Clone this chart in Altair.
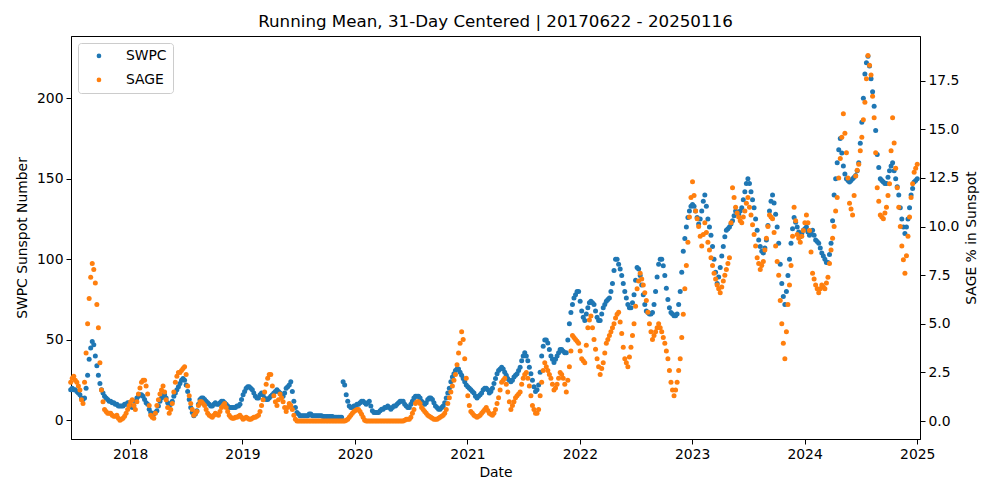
import altair as alt
import pandas as pd

# ---- data (31-day running means, read every 5 days from the start date) ----
start_date = "2017-06-22"
step_days = 5

swpc = [
    # 2017-06 .. 2018-06
    19, 20, 19, 19, 18, 17, 16, 14, 13, 14,
    20, 28, 38, 45, 49, 47, 40, 34, 28, 23,
    19, 17, 15, 14, 13, 12, 12, 11, 11, 10,
    10, 9, 9, 9, 9, 10, 10, 11, 11, 9,
    8, 9, 12, 14, 15, 16, 16, 15, 13, 11,
    10, 7, 5, 4, 4, 5, 6, 9, 12, 14,
    16, 16, 14, 11, 9, 10, 12, 15, 17, 19,
    21, 23,
    # 2018-06 .. 2019-06
    25, 26, 25, 22, 18, 13, 8, 5, 3, 4,
    6, 10, 13, 14, 14, 13, 12, 11, 10, 9,
    9, 10, 11, 10, 10, 11, 12, 12, 11, 10,
    9, 8, 8, 8, 8, 8, 9, 9, 10, 13,
    16, 18, 20, 21, 21, 20, 19, 17, 15, 14,
    14, 16, 17, 16, 14, 13, 13, 14, 15, 16,
    17, 18, 19, 18, 17, 16, 15, 17, 20, 21,
    22, 24,
    # 2019-06 .. 2020-06
    18, 12, 8, 5, 4, 3, 3, 3, 3, 3,
    3, 4, 4, 3, 3, 3, 3, 3, 3, 3,
    2.5, 2.5, 2.5, 2.5, 2.5, 2.5, 2.5, 2, 2, 2,
    2, 2, 2, 24, 22, 16, 12, 9, 8, 8,
    9, 9, 10, 10, 11, 12, 12, 11, 10, 11,
    12, 9, 6, 5, 5, 5, 5, 6, 7, 7,
    8, 8, 9, 8, 7, 8, 9, 9, 10, 11,
    12, 12,
    # 2020-06 .. 2021-06
    12, 10, 9, 8, 8, 10, 12, 14, 15, 15,
    15, 14, 12, 11, 10, 11, 13, 14, 14, 13,
    11, 9, 8, 7, 7, 8, 9, 11, 14, 17,
    20, 24, 27, 29, 31, 32, 32, 30, 28, 26,
    24, 22, 21, 20, 19, 18, 17, 15, 14, 15,
    16, 17, 19, 20, 20, 19, 17, 18, 20, 23,
    26, 29, 31, 32, 33, 32, 30, 28, 26, 25,
    # 2021-06 .. 2022-06
    24, 25, 27, 28, 29, 31, 33, 37, 40, 42,
    40, 37, 33, 29, 25, 21, 18, 19, 22, 30,
    40, 46, 50, 50, 48, 44, 40, 38, 36, 38,
    40, 42, 44, 44, 43, 42, 42, 50, 60, 67,
    72, 76, 78, 80, 80, 74, 68, 64, 62, 66,
    70, 73, 74, 73, 72, 68, 64, 62, 62, 66,
    70, 72, 74, 75, 76, 80, 85, 93, 100, 100,
    97, 94,
    # 2022-06 .. 2023-06
    90, 85, 80, 76, 72, 70, 70, 73, 78, 87,
    95, 94, 90, 84, 78, 72, 68, 67, 66, 66,
    67, 72, 80, 89, 97, 100, 100, 96, 90, 82,
    75, 70, 67, 66, 65, 65, 66, 72, 80, 92,
    105, 113, 120, 126, 130, 133, 134, 133, 130, 126,
    122, 125, 130, 136, 140, 133, 125, 120, 115, 108,
    100, 92, 85, 89, 95, 102, 108, 114, 118, 119,
    120, 122,
    # 2023-06 .. 2024-06
    124, 127, 130, 129, 128, 130, 132, 137, 142, 147,
    150, 147, 142, 137, 132, 125, 118, 112, 108, 105,
    104, 107, 112, 121, 130, 136, 140, 135, 128, 120,
    110, 97, 85, 77, 72, 80, 90, 100, 110, 119,
    126, 123, 120, 117, 114, 116, 118, 119, 120, 117,
    115, 116, 118, 115, 112, 111, 110, 107, 104, 102,
    100, 98, 98, 103, 110, 124, 140, 150, 160, 168,
    # 2024-06 .. 2025-01
    175, 166, 158, 153, 150, 149, 148, 149, 150, 151,
    152, 155, 160, 172, 185, 200, 215, 222, 226, 220,
    212, 204, 195, 180, 165, 157, 150, 149, 148, 147,
    147, 151, 155, 158, 160, 155, 150, 145, 140, 132,
    125, 120, 116, 120, 125, 132, 140, 144, 148, 149,
    150,
]

sage = [
    # 2017-06 .. 2018-06
    2.0, 2.2, 2.3, 2.1, 2.0, 1.8, 1.6, 1.1, 0.9, 2.0,
    3.5, 5.0, 6.3, 7.4, 8.1, 7.8, 7.1, 6.0, 4.8, 3.0,
    1.6, 1.0, 0.6, 0.5, 0.4, 0.4, 0.4, 0.3, 0.25, 0.25,
    0.3, 0.15, 0.05, 0.1, 0.15, 0.25, 0.4, 0.6, 0.8, 1.0,
    1.1, 0.8, 0.6, 1.0, 1.4, 1.7, 2.0, 2.1, 2.1, 1.8,
    1.4, 0.8, 0.3, 0.2, 0.15, 0.4, 0.8, 1.1, 1.4, 1.6,
    1.8, 1.5, 1.1, 0.7, 0.4, 0.6, 0.9, 1.5, 2.0, 2.3,
    2.5, 2.5,
    # 2018-06 .. 2019-06
    2.6, 2.7, 2.8, 2.4, 1.8, 1.3, 0.9, 0.6, 0.3, 0.4,
    0.5, 0.8, 1.0, 1.0, 0.9, 0.8, 0.6, 0.4, 0.3, 0.25,
    0.2, 0.3, 0.4, 0.35, 0.3, 0.5, 0.7, 0.8, 0.9, 0.7,
    0.5, 0.3, 0.2, 0.15, 0.15, 0.2, 0.2, 0.25, 0.3, 0.2,
    0.1, 0.15, 0.2, 0.15, 0.1, 0.1, 0.15, 0.2, 0.2, 0.25,
    0.3, 0.5, 0.8, 1.1, 1.5, 1.9, 2.2, 2.4, 2.4, 1.8,
    1.3, 1.0, 0.8, 1.1, 1.4, 1.2, 1.0, 0.7, 0.5, 0.7,
    0.9, 0.8,
    # 2019-06 .. 2020-06
    0.6, 0.3, 0.1, 0,
    0, 0, 0, 0, 0, 0, 0, 0, 0, 0,
    0, 0, 0, 0, 0, 0, 0, 0, 0, 0,
    0, 0, 0, 0, 0, 0, 0, 0, 0, 0,
    0, 0.05,
    0.1, 0.2, 0.3, 0.4, 0.5, 0.55, 0.6, 0.6, 0.5, 0.35, 0.2, 0.05,
    0, 0, 0, 0, 0, 0, 0, 0, 0, 0, 0, 0,
    0, 0, 0, 0, 0, 0, 0, 0, 0, 0, 0, 0,
    # 2020-06 .. 2021-06
    0, 0.05, 0.1, 0.1, 0.1, 0.2, 0.4, 0.6, 0.9, 1.0,
    1.0, 0.9, 0.7, 0.6, 0.5, 0.4, 0.3, 0.25, 0.2, 0.15,
    0.1, 0.1, 0.1, 0.15, 0.2, 0.25, 0.3, 0.4, 0.6, 0.9,
    1.2, 1.5, 1.8, 2.1, 2.4, 2.9, 3.5, 4.0, 4.6, 4.2,
    3.2, 2.2, 1.3, 0.8, 0.5, 0.4, 0.3, 0.25, 0.2, 0.25,
    0.3, 0.4, 0.5, 0.6, 0.7, 0.55, 0.4, 0.35, 0.3, 0.4,
    0.6, 0.9, 1.2, 1.6, 2.0, 2.1, 2.2, 1.9, 1.5, 1.0,
    # 2021-06 .. 2022-06
    0.6, 0.8, 1.0, 1.2, 1.3, 1.4, 1.5, 1.9, 2.2, 2.4,
    2.5, 2.2, 1.8, 1.3, 0.8, 0.6, 0.4, 0.4, 0.6, 1.3,
    2.0, 2.6, 3.0, 2.8, 2.6, 2.4, 2.2, 1.9, 1.6, 1.7,
    1.9, 2.2, 2.5, 2.4, 2.2, 1.9, 1.5, 2.1, 2.8, 3.6,
    4.4, 4.3, 4.2, 4.1, 4.0, 3.6, 3.2, 3.1, 3.0, 3.9,
    4.8, 5.2, 5.4, 4.8, 4.2, 3.7, 3.2, 2.8, 2.4, 2.7,
    3.0, 3.5, 4.0, 4.2, 4.4, 4.6, 4.8, 5.0, 5.3, 5.5,
    5.6, 5.1,
    # 2022-06 .. 2023-06
    4.5, 3.8, 3.2, 3.0, 2.8, 3.3, 3.8, 4.4, 5.0, 5.9,
    6.8, 7.2, 7.6, 7.3, 7.0, 6.6, 6.2, 5.6, 5.0, 4.6,
    4.2, 4.4, 4.6, 4.8, 5.0, 4.8, 4.6, 4.3, 4.0, 3.6,
    3.2, 2.6, 2.0, 1.6, 1.3, 1.6, 2.0, 2.6, 3.2, 4.3,
    5.5, 6.8, 8.0, 9.2, 10.5, 11.5, 12.3, 11.6, 10.8, 10.4,
    10.0, 9.5, 9.0, 9.6, 10.2, 9.7, 9.2, 8.8, 8.4, 8.0,
    7.6, 7.3, 7.0, 6.8, 6.6, 6.9, 7.2, 7.5, 7.8, 8.1,
    8.4, 10.2,
    # 2023-06 .. 2024-06
    12.0, 11.5, 11.0, 10.7, 10.5, 10.3, 10.2, 10.5, 10.8, 11.2,
    11.5, 11.0, 10.6, 10.1, 9.6, 9.0, 8.4, 8.1, 7.8, 8.0,
    8.2, 8.8, 9.4, 10.0, 10.6, 10.5, 10.4, 9.7, 9.0, 8.2,
    7.5, 6.2, 5.0, 4.0, 3.2, 4.6, 6.0, 7.0, 8.0, 9.5,
    11.0, 10.3, 9.6, 9.4, 9.2, 9.5, 9.8, 10.2, 10.6, 10.2,
    9.8, 8.7, 7.6, 7.3, 7.0, 6.8, 6.6, 6.8, 7.0, 6.9,
    6.8, 7.1, 7.4, 8.1, 8.8, 9.4, 10.0, 10.8, 11.5, 12.5,
    # 2024-06 .. 2025-01
    13.5, 14.6, 15.8, 14.8, 13.8, 12.5, 11.2, 10.9, 10.6, 11.6,
    12.6, 12.9, 13.2, 13.9, 14.6, 15.5, 16.4, 17.6, 18.8, 18.3,
    17.8, 16.7, 15.6, 13.8, 12.0, 11.3, 10.6, 10.5, 10.4, 10.7,
    11.0, 11.6, 12.2, 13.9, 15.6, 14.3, 13.0, 12.0, 11.0, 10.0,
    9.0, 8.3, 7.6, 8.5, 9.5, 10.5, 11.5, 12.2, 12.8, 13.0,
    13.2,
]

series_names = ["SWPC", "SAGE"]
series_colors = ["#1f77b4", "#ff7f0e"]
left_ticks = [0, 50, 100, 150, 200]
right_ticks = [0, 2.5, 5, 7.5, 10, 12.5, 15, 17.5]
year_ticks = [2018, 2019, 2020, 2021, 2022, 2023, 2024, 2025]
title_text = "Running Mean, 31-Day Centered | 20170622 - 20250116"


def frame(values, name):
    d = pd.date_range(start_date, periods=len(values), freq=f"{step_days}D").strftime("%Y-%m-%d")
    return pd.DataFrame({"date": d, "value": values, "series": name})


df_swpc = frame(swpc, "SWPC")
df_sage = frame(sage, "SAGE")

FONT = "DejaVu Sans"
FS = 13.9
DOT = 25

x_enc = alt.X(
    "date:T",
    scale=alt.Scale(
        type="utc",
        domain=[alt.DateTime(year=2017, month=6, date=23, utc=True),
                alt.DateTime(year=2025, month=1, date=10, utc=True)],
    ),
    axis=alt.Axis(
        title="Date",
        grid=False,
        values=[alt.DateTime(year=y, month=1, date=1, utc=True) for y in year_ticks],
        format="%Y",
        formatType="utc",
    ),
)

color_enc = alt.Color(
    "series:N",
    scale=alt.Scale(domain=series_names, range=series_colors),
    legend=alt.Legend(
        title=None,
        orient="none",
        legendX=7,
        legendY=7,
        direction="vertical",
        fillColor="white",
        strokeColor="#cccccc",
        cornerRadius=3,
        padding=6,
        labelFontSize=FS,
        labelFont=FONT,
        labelColor="black",
        symbolType="circle",
        symbolSize=22,
        symbolOffset=8,
        labelOffset=20,
        rowPadding=9,
    ),
)

swpc_layer = (
    alt.Chart(df_swpc)
    .mark_circle(size=DOT, opacity=1)
    .encode(
        x=x_enc,
        y=alt.Y(
            "value:Q",
            scale=alt.Scale(domain=[-11.5, 238.6], nice=False, zero=False),
            axis=alt.Axis(title="SWPC Sunspot Number", values=left_ticks, orient="left",
                          grid=False, titlePadding=7),
        ),
        color=color_enc,
    )
)

sage_layer = (
    alt.Chart(df_sage)
    .mark_circle(size=DOT, opacity=1)
    .encode(
        x=x_enc,
        y=alt.Y(
            "value:Q",
            scale=alt.Scale(domain=[-0.92, 19.8], nice=False, zero=False),
            axis=alt.Axis(title="SAGE % in Sunspot", values=right_ticks, format=".1f",
                          orient="right", grid=False, titleAngle=270, titlePadding=20),
        ),
        color=color_enc,
    )
)

chart = (
    alt.layer(swpc_layer, sage_layer)
    .resolve_scale(y="independent")
    .properties(
        width=849,
        height=403,
        background="white",
        title=alt.Title(title_text, fontSize=16.7, font=FONT, fontWeight="normal",
                        anchor="middle", frame="group", offset=5, color="black"),
        padding={"left": 71, "top": 36, "right": 75, "bottom": 59},
        autosize=alt.AutoSizeParams(type="none"),
    )
    .configure_view(stroke="black", strokeWidth=1)
    .configure_axis(
        grid=False,
        labelFont=FONT,
        titleFont=FONT,
        labelFontSize=FS,
        titleFontSize=FS,
        titleFontWeight="normal",
        labelColor="black",
        titleColor="black",
        tickColor="black",
        domainColor="black",
        tickSize=5,
        tickWidth=1,
        domainWidth=1,
        labelPadding=3,
        titlePadding=5,
    )
)

chart.save("out.html", embed_options={"renderer": "svg", "actions": False})
